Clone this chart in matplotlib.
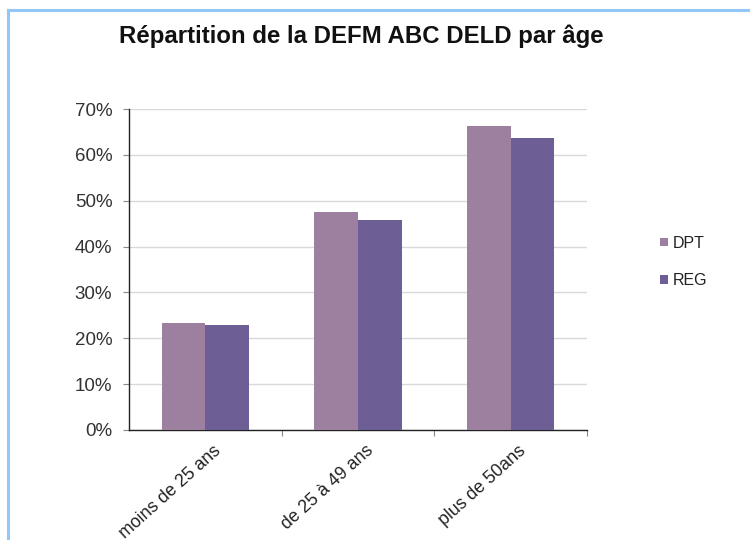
import matplotlib
matplotlib.use("Agg")
import matplotlib.pyplot as plt
from matplotlib.lines import Line2D
from matplotlib.patches import Patch
from matplotlib.ticker import PercentFormatter, FixedLocator, NullFormatter
import numpy as np

categories = ["moins de 25 ans", "de 25 à 49 ans", "plus de 50ans"]
series_names = ["DPT", "REG"]
dpt_values = [23.3, 47.5, 66.4]
reg_values = [23.0, 45.8, 63.7]
y_ticks = [0, 10, 20, 30, 40, 50, 60, 70]

colors = ["#9D7F9F", "#6D5F96"]

plt.rcParams["font.family"] = ["Liberation Sans", "DejaVu Sans"]

W, H = 750, 540
fig = plt.figure(figsize=(W / 100, H / 100), dpi=100)
fig.patch.set_facecolor("white")

# light blue frame lines (top and left)
border_color = "#92C7F7"
fig.add_artist(Line2D([8 / W, 1.0], [1 - 10 / H, 1 - 10 / H], transform=fig.transFigure,
                      color=border_color, lw=2.2))
fig.add_artist(Line2D([8 / W, 8 / W], [0.0, 1 - 10 / H], transform=fig.transFigure,
                      color=border_color, lw=2.2))

ax = fig.add_axes([129 / W, 1 - 430 / H, (587 - 129) / W, (430 - 109) / H])

x = np.arange(len(categories))
bw = 0.285
ax.bar(x - bw / 2, dpt_values, width=bw, color=colors[0], label=series_names[0], zorder=3)
ax.bar(x + bw / 2, reg_values, width=bw, color=colors[1], label=series_names[1], zorder=3)

ax.set_xlim(-0.5, len(categories) - 0.5)
ax.set_ylim(0, 70)
ax.set_yticks(y_ticks)
ax.yaxis.set_major_formatter(PercentFormatter(decimals=0))
ax.grid(axis="y", color="#D9D9D9", lw=1.0, zorder=0)
ax.set_axisbelow(True)

for s in ["top", "right"]:
    ax.spines[s].set_visible(False)
ax.spines["left"].set_color("#222222")
ax.spines["bottom"].set_color("#222222")
ax.spines["left"].set_linewidth(1.0)
ax.spines["bottom"].set_linewidth(1.0)

ax.tick_params(axis="y", labelsize=13.5, labelcolor="#333333", length=4, color="#888888", pad=8)

# tick marks between categories, labels at category centres
ax.xaxis.set_major_locator(FixedLocator([0.5, 1.5, 2.5]))
ax.xaxis.set_major_formatter(NullFormatter())
ax.tick_params(axis="x", length=4, color="#888888")
for xi, lab in zip(x, categories):
    ax.text(xi + 0.05, -2.6, lab, rotation=42, ha="right", va="top", rotation_mode="anchor",
            fontsize=12.8, color="#222222", transform=ax.transData, clip_on=False)

fig.text(361 / W, 1 - 36 / H, "Répartition de la DEFM ABC DELD par âge",
         ha="center", va="center", fontsize=17.3, fontweight="bold", color="#111111")

handles = [Patch(facecolor=c, edgecolor="none") for c in colors]
fig.legend(handles, series_names, loc="center left", bbox_to_anchor=(646 / W, 1 - 262 / H),
           frameon=False, fontsize=11.5, handlelength=0.45, handleheight=0.45,
           handletextpad=0.35, labelspacing=1.4, labelcolor="#222222")

fig.savefig("out.png", dpi=100, facecolor="white")
